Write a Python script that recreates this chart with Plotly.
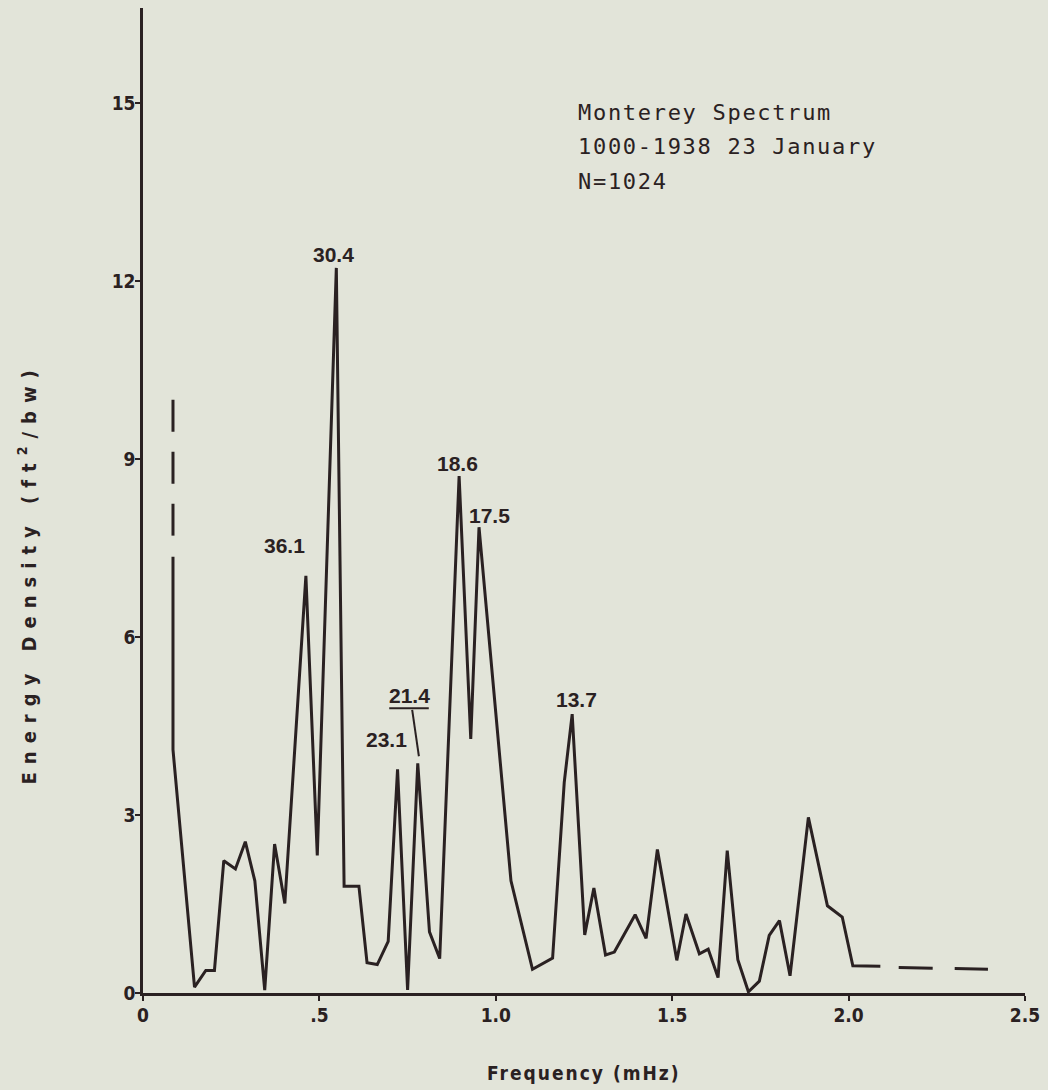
import plotly.graph_objects as go

# ---- data ----
freq = [0.085, 0.085, 0.146, 0.178, 0.2025, 0.229, 0.262, 0.290, 0.317, 0.345,
        0.373, 0.402, 0.4617, 0.494, 0.548, 0.570, 0.612, 0.635, 0.664, 0.695,
        0.7215, 0.750, 0.7788, 0.812, 0.841, 0.896, 0.929, 0.9524, 1.043, 1.104,
        1.161, 1.194, 1.2165, 1.252, 1.278, 1.311, 1.336, 1.395, 1.426, 1.458,
        1.513, 1.539, 1.577, 1.602, 1.630, 1.656, 1.686, 1.716, 1.747, 1.775,
        1.804, 1.834, 1.886, 1.940, 1.982, 2.012, 2.090]
energy = [7.35, 4.1, 0.1, 0.38, 0.38, 2.23, 2.09, 2.55, 1.89, 0.05,
          2.51, 1.51, 7.03, 2.32, 12.22, 1.8, 1.8, 0.51, 0.48, 0.87,
          3.77, 0.05, 3.87, 1.03, 0.58, 8.71, 4.28, 7.85, 1.89, 0.40,
          0.59, 3.55, 4.70, 0.98, 1.77, 0.64, 0.69, 1.32, 0.92, 2.42,
          0.55, 1.33, 0.66, 0.74, 0.26, 2.4, 0.56, 0.02, 0.2, 0.97,
          1.22, 0.29, 2.96, 1.47, 1.28, 0.46, 0.45]

# dashed (uncertain) parts of the spectrum
freq_low_dash = [0.085, 0.085]
energy_low_dash = [10.0, 7.67]
freq_tail = [2.142, 2.395]
energy_tail = [0.43, 0.40]

# peak labels (period, minutes)
peak_text = ["36.1", "30.4", "23.1", "21.4", "18.6", "17.5", "13.7"]
peak_x = [0.401, 0.540, 0.690, 0.754, 0.891, 0.982, 1.230]
peak_y = [7.55, 12.45, 4.27, 5.01, 8.92, 8.04, 4.94]

# typed caption
caption_lines = ["Monterey Spectrum", "1000-1938 23 January", "N=1024"]
caption_x = 1.226
caption_y = [14.84, 14.27, 13.68]

x_tickvals = [0, 0.5, 1.0, 1.5, 2.0, 2.5]
x_ticktext = ["0", ".5", "1.0", "1.5", "2.0", "2.5"]
y_tickvals = [0, 3, 6, 9, 12, 15]

assert len(freq) == len(energy)

INK = "#2a2122"
BG = "#e2e4d9"
BOLD_FONT = "Liberation Sans Narrow, DejaVu Sans Condensed, Liberation Sans, sans-serif"
LABEL_FONT = "Liberation Sans, Arial, sans-serif"

fig = go.Figure()
fig.add_trace(go.Scatter(x=freq, y=energy, mode="lines",
                         line=dict(color=INK, width=3), cliponaxis=False,
                         showlegend=False, hoverinfo="skip"))
fig.add_trace(go.Scatter(x=freq_low_dash, y=energy_low_dash, mode="lines",
                         line=dict(color=INK, width=3, dash="32px,20px"),
                         cliponaxis=False, showlegend=False, hoverinfo="skip"))
fig.add_trace(go.Scatter(x=freq_tail, y=energy_tail, mode="lines",
                         line=dict(color=INK, width=3, dash="34px,22px"),
                         cliponaxis=False, showlegend=False, hoverinfo="skip"))

annotations = []
for t, x, y in zip(peak_text, peak_x, peak_y):
    annotations.append(dict(x=x, y=y, xref="x", yref="y", text=t, showarrow=False,
                            font=dict(family=LABEL_FONT, size=21, color=INK, weight="bold"),
                            xanchor="center", yanchor="middle"))

# underline and leader for the 21.4 label
i214 = peak_text.index("21.4")
ux, uy = peak_x[i214], peak_y[i214]
fig.add_shape(type="line", xref="x", yref="y", x0=ux - 0.056, x1=ux + 0.056,
              y0=uy - 0.21, y1=uy - 0.21, line=dict(color=INK, width=2))
fig.add_shape(type="line", xref="x", yref="y", x0=ux + 0.009, x1=ux + 0.028,
              y0=uy - 0.24, y1=uy - 1.02, line=dict(color=INK, width=2))

for line_text, ly in zip(caption_lines, caption_y):
    annotations.append(dict(x=caption_x, y=ly, xref="x", yref="y",
                            text='<span style="letter-spacing:1.7px">' + line_text + '</span>',
                            showarrow=False, align="left", xanchor="left", yanchor="middle",
                            font=dict(family="DejaVu Sans Mono, monospace", size=22, color=INK)))

annotations.append(dict(x=-0.131, y=0.4264, xref="paper", yref="paper",
                        text='<span style="letter-spacing:8px">Energy Density (ft<sup>2</sup>/bw)</span>',
                        textangle=-90,
                        showarrow=False, xanchor="center", yanchor="middle",
                        font=dict(family=BOLD_FONT, size=20, color=INK, weight="bold")))
annotations.append(dict(x=0.5, y=-0.0812, xref="paper", yref="paper",
                        text='<span style="letter-spacing:2px">Frequency (mHz)</span>',
                        showarrow=False, xanchor="center", yanchor="middle",
                        font=dict(family=BOLD_FONT, size=19, color=INK, weight="bold")))

fig.update_layout(
    width=1048, height=1090,
    margin=dict(l=143, r=20, t=8, b=97),
    paper_bgcolor=BG, plot_bgcolor=BG,
    annotations=annotations,
    xaxis=dict(range=[0, 2.5], tickvals=x_tickvals, ticktext=x_ticktext,
               showgrid=False, zeroline=False, showline=True, linecolor=INK,
               linewidth=2.5, ticks="outside", tickcolor=INK, tickwidth=2, ticklen=5,
               ticklabelstandoff=-2,
               tickfont=dict(family=BOLD_FONT, size=19, color=INK, weight="bold")),
    yaxis=dict(range=[0, 16.6], tickvals=y_tickvals,
               showgrid=False, zeroline=False, showline=True, linecolor=INK,
               linewidth=2.5, ticks="outside", tickcolor=INK, tickwidth=2, ticklen=5,
               ticklabelstandoff=-4,
               tickfont=dict(family=BOLD_FONT, size=19, color=INK, weight="bold")),
)

fig.write_html("out.html", config={"displayModeBar": False},
               post_script="document.body.style.margin='0';document.body.style.overflow='hidden';")
